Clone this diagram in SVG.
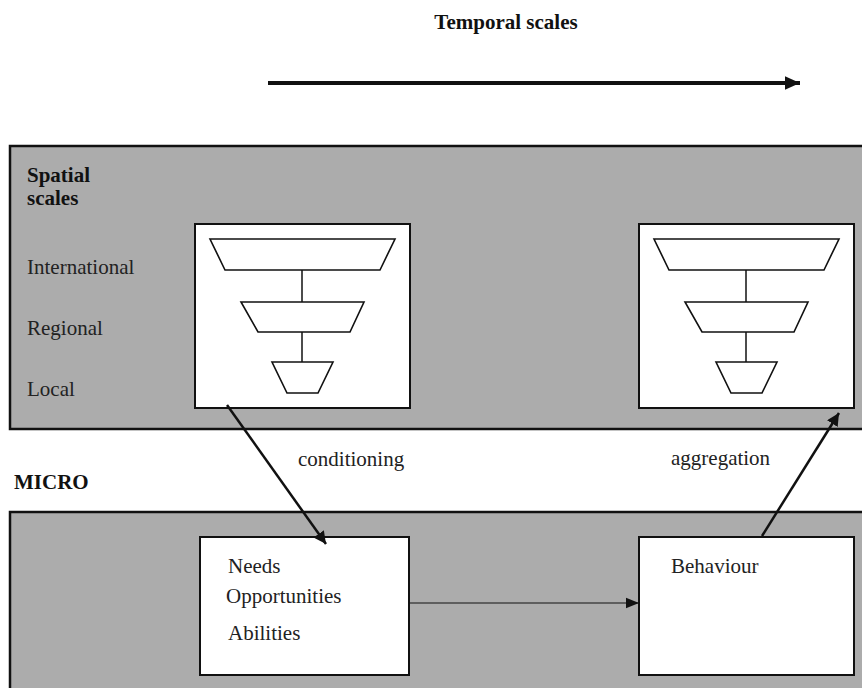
<svg xmlns="http://www.w3.org/2000/svg" width="862" height="688" viewBox="0 0 862 688">
<style>
.panel{fill:#acacac;stroke:#111;stroke-width:2.5}
.box{fill:#fff;stroke:#111;stroke-width:2}
.trap{fill:#fff;stroke:#111;stroke-width:1.6}
.stem{stroke:#111;stroke-width:1.5}
.t{font-family:"Liberation Serif","Times New Roman",serif;font-size:21px;fill:#222}
.b{font-family:"Liberation Serif","Times New Roman",serif;font-size:21px;font-weight:bold;fill:#111}
</style>
<defs>
<marker id="ah" viewBox="0 0 10 10" refX="10" refY="5" markerWidth="5" markerHeight="5" orient="auto" markerUnits="strokeWidth"><path d="M0,0L10,5L0,10z" fill="#111"/></marker>
<marker id="ahBig" viewBox="0 0 10 10" refX="10" refY="5" markerWidth="15" markerHeight="15" orient="auto" markerUnits="userSpaceOnUse"><path d="M0,0.5L10,5L0,9.5z" fill="#111"/></marker>
<marker id="ahThin" viewBox="0 0 10 10" refX="10" refY="5" markerWidth="13" markerHeight="13" orient="auto" markerUnits="userSpaceOnUse"><path d="M0,1L10,5L0,9z" fill="#111"/></marker>
<g id="funnel">
<polygon class="trap" points="210,239 395,239 380,270 225,270"/>
<line class="stem" x1="302" y1="270" x2="302" y2="302"/>
<polygon class="trap" points="241,302 364,302 350,332 258,332"/>
<line class="stem" x1="302" y1="332" x2="302" y2="362"/>
<polygon class="trap" points="272,362 333,362 318,393 287,393"/>
</g>
</defs>
<rect width="862" height="688" fill="#fff"/>
<g id="temporal">
<text class="b" x="506" y="29" text-anchor="middle">Temporal scales</text>
</g>
<g id="macro-panel">
<rect class="panel" x="10" y="146" width="870" height="283"/>
<text class="b" x="27" y="182">Spatial</text>
<text class="b" x="27" y="205">scales</text>
<text class="t" x="27" y="274">International</text>
<text class="t" x="27" y="335">Regional</text>
<text class="t" x="27" y="396">Local</text>
</g>
<g id="micro-panel">
<text class="b" x="14" y="489">MICRO</text>
<rect class="panel" x="10" y="512" width="870" height="200"/>
</g>
<g id="macro-left">
<rect class="box" x="195" y="224" width="215" height="184"/>
<use href="#funnel"/>
</g>
<g id="macro-right">
<rect class="box" x="639" y="224" width="215" height="184"/>
<use href="#funnel" transform="translate(444,0)"/>
</g>
<g id="needs">
<rect class="box" x="200" y="537" width="209" height="138"/>
<text class="t" x="228" y="573">Needs</text>
<text class="t" x="226" y="603">Opportunities</text>
<text class="t" x="228" y="640">Abilities</text>
</g>
<g id="behaviour">
<rect class="box" x="639" y="537" width="215" height="138"/>
<text class="t" x="671" y="573">Behaviour</text>
</g>
<g id="connectors" fill="none" stroke="#111">
<line x1="268" y1="83" x2="800" y2="83" stroke-width="4" marker-end="url(#ahBig)"/>
<line x1="227" y1="405" x2="326" y2="544" stroke-width="2.5" marker-end="url(#ah)"/>
<line x1="762" y1="536" x2="839" y2="413" stroke-width="2.5" marker-end="url(#ah)"/>
<line x1="409" y1="603" x2="639" y2="603" stroke-width="1" marker-end="url(#ahThin)"/>
</g>
<g id="labels">
<text class="t" x="298" y="466">conditioning</text>
<text class="t" x="671" y="465">aggregation</text>
</g>
</svg>
